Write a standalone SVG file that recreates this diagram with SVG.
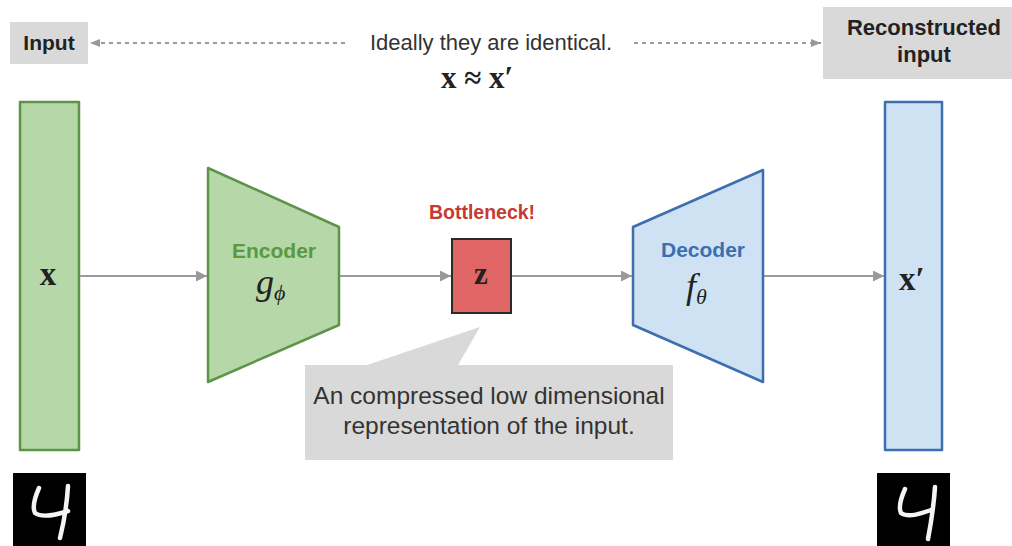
<svg xmlns="http://www.w3.org/2000/svg" width="1012" height="546" viewBox="0 0 1012 546">
<defs>
<marker id="ah" viewBox="0 0 10 10" refX="10" refY="5" markerWidth="11" markerHeight="11" markerUnits="userSpaceOnUse" orient="auto-start-reverse">
<path d="M0,0 L10,5 L0,10 z" fill="#999"/>
</marker>
<marker id="ahs" viewBox="0 0 10 10" refX="10" refY="5" markerWidth="12" markerHeight="10" markerUnits="userSpaceOnUse" orient="auto-start-reverse">
<path d="M0,1 L10,5 L0,9 z" fill="#999"/>
</marker>
<style>
.lbl{font-family:"Liberation Sans",Arial,sans-serif;font-weight:bold;text-anchor:middle}
.txt{font-family:"Liberation Sans",Arial,sans-serif;fill:#333;text-anchor:middle}
.math{font-family:"Liberation Serif","DejaVu Serif",serif;font-weight:bold;fill:#222}
.imath{font-family:"Liberation Serif","DejaVu Serif",serif;font-style:italic;fill:#222}
.gray{fill:#d9d9d9}
.green{fill:#b6d7a8;stroke:#5e9448;stroke-width:2.5;stroke-linejoin:round}
.blue{fill:#cfe2f3;stroke:#3d6eb0;stroke-width:2.5;stroke-linejoin:round}
.conn{stroke:#9a9a9a;stroke-width:2;fill:none}
.dash{stroke:#9a9a9a;stroke-width:2;fill:none;stroke-dasharray:4 4}
.digit{fill:none;stroke:#f4f4f4;stroke-width:4.5;stroke-linecap:round;stroke-linejoin:round}
</style>
</defs>
<rect width="1012" height="546" fill="#ffffff"/>

<g id="input-label">
<rect class="gray" x="10" y="22" width="78" height="42"/>
<text class="lbl" x="49" y="50" font-size="21" fill="#222">Input</text>
</g>

<g id="reconstructed-label">
<rect class="gray" x="823" y="7" width="189" height="72"/>
<text class="lbl" x="924" y="35" font-size="22" fill="#222">Reconstructed</text>
<text class="lbl" x="924" y="62" font-size="22" fill="#222">input</text>
</g>

<g id="ideal-note">
<text class="txt" x="491" y="50" font-size="22">Ideally they are identical.</text>
<text class="math" x="477" y="88" font-size="31" text-anchor="middle">x ≈ x′</text>
</g>

<g id="input-x">
<rect class="green" x="20" y="102" width="59" height="348"/>
<text class="math" x="48" y="285" font-size="33" text-anchor="middle">x</text>
</g>

<g id="encoder">
<polygon class="green" points="208,168 339,227 339,325 208,382"/>
<text class="lbl" x="274" y="258" font-size="21" fill="#5a9a3f">Encoder</text>
<text class="imath" x="256" y="294" font-size="36">g<tspan font-size="22" dy="6">ϕ</tspan></text>
</g>

<g id="bottleneck">
<text class="lbl" x="482" y="219" font-size="19.5" fill="#c53a32">Bottleneck!</text>
<rect x="452" y="239" width="59" height="74" fill="#e06666" stroke="#2a2a2a" stroke-width="2"/>
<text class="math" x="481" y="284" font-size="31" text-anchor="middle">z</text>
</g>

<g id="decoder">
<polygon class="blue" points="633,227 763,170 763,382 633,325"/>
<text class="lbl" x="703" y="257" font-size="21" fill="#3d6eb0">Decoder</text>
<text class="imath" x="686" y="298" font-size="36">f<tspan font-size="22" dy="6">θ</tspan></text>
</g>

<g id="output-x">
<rect class="blue" x="885" y="102" width="57" height="348"/>
<text class="math" x="899" y="290" font-size="33">x′</text>
</g>

<g id="callout">
<path class="gray" d="M305,365 L367,365 L480,327 L458,365 L673,365 L673,460 L305,460 z"/>
<text class="txt" x="489" y="404" font-size="24.5">An compressed low dimensional</text>
<text class="txt" x="489" y="434" font-size="24.5">representation of the input.</text>
</g>

<g id="input-digit">
<rect x="13" y="473" width="73" height="73" fill="#000"/>
<path class="digit" d="M39,488 C35,497 32,507 35,513 C42,518 56,515 68,511 M68,486 C67,502 64,522 60,538"/>
</g>

<g id="output-digit">
<rect x="877" y="473" width="73" height="73" fill="#000"/>
<path class="digit" d="M905,489 C901,498 898,507 901,513 C908,518 920,514 931,510 M935,487 C934,503 931,523 928,539"/>
</g>

<g id="connectors">
<line class="dash" x1="345" y1="43" x2="90" y2="43" marker-end="url(#ahs)"/>
<line class="dash" x1="634" y1="43" x2="821" y2="43" marker-end="url(#ahs)"/>
<line class="conn" x1="80" y1="276" x2="207" y2="276" marker-end="url(#ah)"/>
<line class="conn" x1="340" y1="276" x2="451" y2="276" marker-end="url(#ah)"/>
<line class="conn" x1="512" y1="276" x2="632" y2="276" marker-end="url(#ah)"/>
<line class="conn" x1="764" y1="276" x2="884" y2="276" marker-end="url(#ah)"/>
</g>
</svg>
